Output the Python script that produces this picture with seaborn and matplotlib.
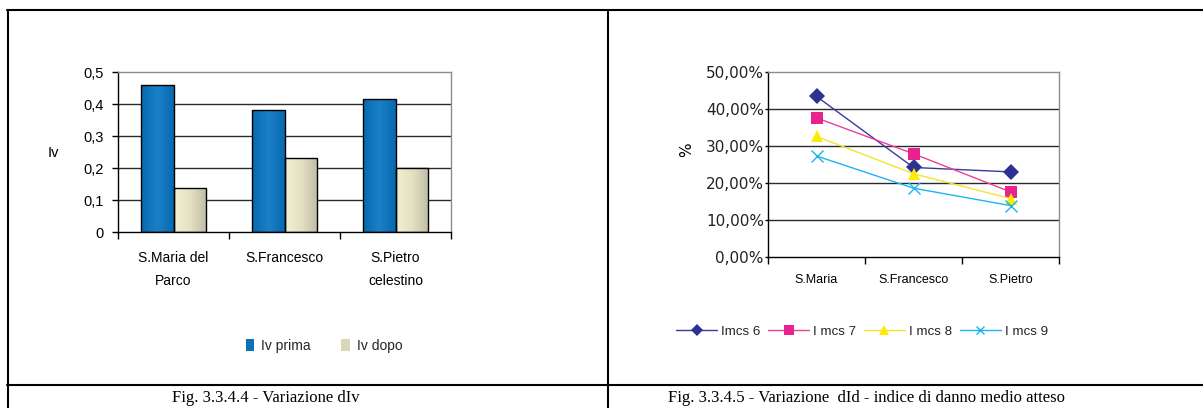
import numpy as np
import pandas as pd
import matplotlib
matplotlib.use("Agg")
import matplotlib.pyplot as plt
from matplotlib.lines import Line2D
from matplotlib.patches import Patch
import seaborn as sns

# ---- data: vulnerability index before / after ----
bar_sites = ["S.Maria del\nParco", "S.Francesco", "S.Pietro\ncelestino"]
iv_prima = [0.46, 0.38, 0.417]
iv_dopo = [0.137, 0.23, 0.20]
bar_ticks = [0, 0.1, 0.2, 0.3, 0.4, 0.5]
bar_tick_labels = ["0", "0,1", "0,2", "0,3", "0,4", "0,5"]

# ---- data: expected mean damage index (%) ----
line_sites = ["S.Maria", "S.Francesco", "S.Pietro"]
imcs6 = [43.4, 24.2, 23.0]
imcs7 = [37.6, 27.9, 17.6]
imcs8 = [32.6, 22.5, 15.8]
imcs9 = [27.3, 18.6, 13.9]
series_names = ["Imcs 6", "I mcs 7", "I mcs 8", "I mcs 9"]
pct_ticks = [0, 10, 20, 30, 40, 50]
pct_tick_labels = ["0,00%", "10,00%", "20,00%", "30,00%", "40,00%", "50,00%"]

sns.set_theme(style="white")
plt.rcParams["font.family"] = ["Liberation Sans", "DejaVu Sans"]

W, H = 1203, 408
fig = plt.figure(figsize=(W / 100, H / 100), dpi=100)
fig.patch.set_facecolor("white")


def ax_rect(x0, y0, x1, y1):
    return [x0 / W, 1 - y1 / H, (x1 - x0) / W, (y1 - y0) / H]


BLUE = "#0A70B8"
BEIGE = "#E6E2C6"

# ================= left: bar chart =================
axL = fig.add_axes(ax_rect(118, 72, 451, 232))
df_bars = pd.DataFrame({
    "site": bar_sites * 2,
    "value": iv_prima + iv_dopo,
    "serie": ["Iv prima"] * 3 + ["Iv dopo"] * 3,
})
sns.barplot(data=df_bars, x="site", y="value", hue="serie",
            palette=[BLUE, BEIGE], width=0.59, gap=0, dodge=True,
            edgecolor="black", linewidth=1.0, ax=axL, legend=False,
            saturation=1)

# horizontal shading on each bar
blue_cmap = matplotlib.colors.LinearSegmentedColormap.from_list(
    "b", ["#086AB0", "#1A80C8", "#086AB0"])
beige_cmap = matplotlib.colors.LinearSegmentedColormap.from_list(
    "g", ["#F3EFD4", "#E4E0C2", "#BEBDA6"])
ramp = np.linspace(0, 1, 64)[None, :]
for p in list(axL.patches):
    bx, by = p.get_x(), p.get_y()
    bw, bh = p.get_width(), p.get_height()
    if bh <= 0:
        continue
    fc = p.get_facecolor()
    cmap = blue_cmap if (fc[2] > 0.6 and fc[0] < 0.3) else beige_cmap
    im = axL.imshow(ramp, extent=(bx, bx + bw, by, by + bh), aspect="auto",
                    cmap=cmap, zorder=p.get_zorder() - 0.1, origin="lower")
    im.set_clip_path(p)
    p.set_facecolor("none")

axL.set_xlim(-0.5, 2.5)
axL.set_ylim(0, 0.5)
axL.set_yticks(bar_ticks)
axL.set_yticklabels(bar_tick_labels)
axL.set_xlabel("")
axL.set_ylabel("")
for y in bar_ticks[1:-1]:
    axL.axhline(y, color="#2a2a2a", lw=1.0, zorder=0.5)
for s in ["top", "right"]:
    axL.spines[s].set_color("#8c8c8c")
    axL.spines[s].set_linewidth(1.0)
for s in ["left", "bottom"]:
    axL.spines[s].set_color("black")
    axL.spines[s].set_linewidth(1.0)
axL.tick_params(axis="y", which="major", left=True, length=4, width=1,
                color="black", pad=6, labelsize=10.5, labelcolor="black")
axL.set_xticks([0, 1, 2])
axL.set_xticklabels(bar_sites, linespacing=1.8)
axL.tick_params(axis="x", which="major", length=0, pad=14, labelsize=10,
                labelcolor="black")
axL.set_xticks([-0.5, 0.5, 1.5, 2.5], minor=True)
axL.tick_params(axis="x", which="minor", bottom=True, length=5, width=1,
                color="black")
axL.grid(False)
fig.text(53 / W, 1 - 153 / H, "Iv", fontsize=10.5, ha="center", va="center",
         color="black")

legL = [Patch(facecolor=BLUE, edgecolor="none", label="Iv prima"),
        Patch(facecolor="#DAD6BA", edgecolor="none", label="Iv dopo")]
fig.legend(handles=legL, loc="center", bbox_to_anchor=(324 / W, 1 - 346 / H),
           ncol=2, frameon=False, fontsize=10, handlelength=0.6,
           handleheight=0.9, handletextpad=0.5, columnspacing=2.2)

# ================= right: line chart =================
axR = fig.add_axes(ax_rect(768, 72, 1059, 257))
styles = [
    (imcs6, "#2E3192", "#3A3A9E", "D", 8),
    (imcs7, "#E8238E", "#EC3E96", "s", 9),
    (imcs8, "#FFEB00", "#F4E430", "^", 9),
    (imcs9, "#1EB4EC", "#1EB4EC", "x", 8),
]
handles = []
for (vals, mcol, lcol, mk, ms), name in zip(styles, series_names):
    sns.lineplot(x=line_sites, y=vals, ax=axR, color=lcol, lw=1.0,
                 marker=mk, markersize=ms, markerfacecolor=mcol,
                 markeredgecolor=mcol, markeredgewidth=1.0 if mk == "x" else 0,
                 sort=False, legend=False)
    handles.append(Line2D([0], [0], color=lcol, lw=1.0, marker=mk,
                          markersize=ms - 2, markerfacecolor=mcol,
                          markeredgecolor=mcol,
                          markeredgewidth=1.0 if mk == "x" else 0,
                          label=name))

axR.set_xlim(-0.5, 2.5)
axR.set_ylim(0, 50)
axR.set_yticks(pct_ticks)
axR.set_yticklabels(pct_tick_labels, family="DejaVu Sans")
for y in pct_ticks[1:-1]:
    axR.axhline(y, color="#2a2a2a", lw=1.0, zorder=0.5)
for s in ["top", "right"]:
    axR.spines[s].set_color("#8c8c8c")
    axR.spines[s].set_linewidth(1.0)
for s in ["left", "bottom"]:
    axR.spines[s].set_color("black")
    axR.spines[s].set_linewidth(1.0)
axR.tick_params(axis="y", which="major", left=True, length=2, width=1,
                color="black", pad=1, labelsize=11, labelcolor="#222222")
axR.set_xticks([0, 1, 2])
axR.set_xticklabels(line_sites)
axR.tick_params(axis="x", which="major", length=0, pad=12, labelsize=9,
                labelcolor="black")
axR.set_xticks([-0.5, 0.5, 1.5, 2.5], minor=True)
axR.tick_params(axis="x", which="minor", bottom=True, length=5, width=1,
                color="black")
axR.set_xlabel("")
axR.set_ylabel("")
axR.grid(False)
fig.text(687 / W, 1 - 150 / H, "%", fontsize=11, rotation=90, ha="center",
         va="center", color="black", family="DejaVu Sans")

fig.legend(handles=handles, loc="center", bbox_to_anchor=(862 / W, 1 - 332 / H),
           ncol=4, frameon=False, fontsize=9.6, handlelength=3.1,
           handletextpad=0.3, columnspacing=0.55)

# ================= table frame and captions =================
LW = 1.5
def hline(y, x0, x1):
    fig.add_artist(Line2D([x0 / W, x1 / W], [1 - y / H, 1 - y / H],
                          color="black", lw=LW, transform=fig.transFigure))
def vline(x, y0, y1):
    fig.add_artist(Line2D([x / W, x / W], [1 - y0 / H, 1 - y1 / H],
                          color="black", lw=LW, transform=fig.transFigure))

hline(10, 7, W)
hline(385, 7, W)
vline(7.5, 10, H)
vline(608, 10, H)

fig.text(266 / W, 1 - 398 / H, "Fig. 3.3.4.4 - Variazione dIv",
         family="Liberation Serif", fontsize=12, ha="center", va="center",
         color="black")
fig.text(866 / W, 1 - 398 / H,
         "Fig. 3.3.4.5 - Variazione  dId - indice di danno medio atteso",
         family="Liberation Serif", fontsize=12, ha="center", va="center",
         color="black")

fig.savefig("out.png", dpi=100, facecolor="white")
